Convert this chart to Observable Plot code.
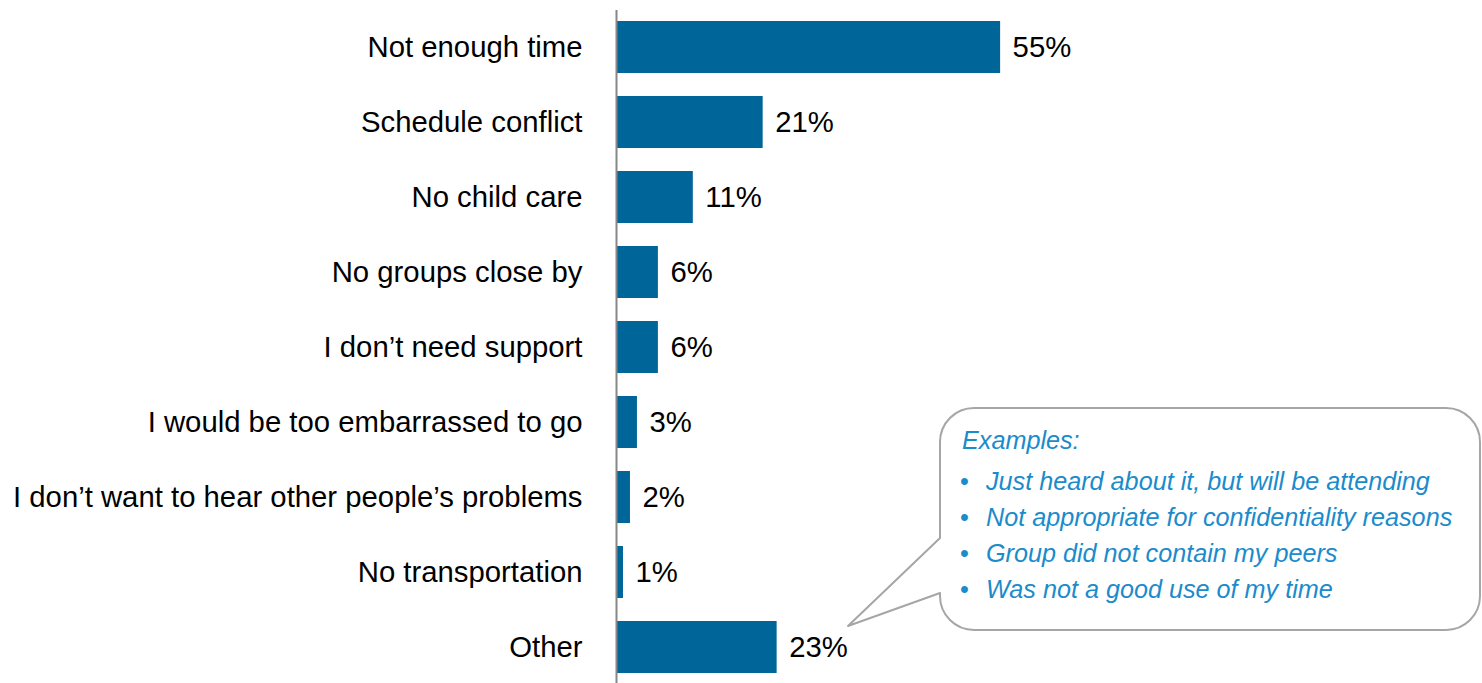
<!DOCTYPE html>
<html>
<head>
<meta charset="utf-8">
<script src="https://cdn.jsdelivr.net/npm/d3@7"></script>
<script src="https://cdn.jsdelivr.net/npm/@observablehq/plot@0.6"></script>
<style>
  html, body { margin: 0; padding: 0; background: #fff; }
  #wrap { position: relative; width: 1482px; height: 683px; overflow: hidden; }
  #wrap svg.overlay { position: absolute; left: 0; top: 0; pointer-events: none; }
</style>
</head>
<body>
<div id="wrap"></div>
<script>
const categories = [
  "Not enough time",
  "Schedule conflict",
  "No child care",
  "No groups close by",
  "I don\u2019t need support",
  "I would be too embarrassed to go",
  "I don\u2019t want to hear other people\u2019s problems",
  "No transportation",
  "Other"
];
const values = [55, 21, 11, 6, 6, 3, 2, 1, 23];
const calloutTitle = "Examples:";
const calloutItems = [
  "Just heard about it, but will be attending",
  "Not appropriate for confidentiality reasons",
  "Group did not contain my peers",
  "Was not a good use of my time"
];

const data = categories.map((c, i) => ({category: c, value: values[i]}));
const font = "'Liberation Sans', Arial, sans-serif";

const chart = Plot.plot({
  width: 1482,
  height: 683,
  marginLeft: 616,
  marginRight: 0,
  marginTop: 10,
  marginBottom: 0,
  style: {fontFamily: font, fontSize: "29.3px", color: "#000", background: "#fff"},
  x: {domain: [0, 124], axis: null},
  y: {domain: categories, paddingInner: 0.31, paddingOuter: 0.13, axis: null},
  marks: [
    Plot.barX(data, {x: "value", y: "category", fill: "#006699"}),
    Plot.ruleX([0], {stroke: "#888888", strokeWidth: 2}),
    Plot.text(data, {x: "value", y: "category", text: d => d.value + "%", textAnchor: "start", dx: 12, fontSize: 29.3, fill: "#000"}),
    Plot.axisY({tickSize: 0, tickPadding: 34, fontSize: 29.3, label: null, fill: "#000"})
  ]
});

const wrap = document.getElementById("wrap");
wrap.appendChild(chart);

// Callout bubble (annotation)
const ns = "http://www.w3.org/2000/svg";
const ov = document.createElementNS(ns, "svg");
ov.setAttribute("class", "overlay");
ov.setAttribute("width", 1482);
ov.setAttribute("height", 683);
const path = document.createElementNS(ns, "path");
path.setAttribute("d",
  "M 974 408 H 1446 A 34 34 0 0 1 1480 442 V 596 A 34 34 0 0 1 1446 630 H 974 A 34 34 0 0 1 940 596 V 593 L 848 626 L 940 538 V 442 A 34 34 0 0 1 974 408 Z");
path.setAttribute("fill", "#fff");
path.setAttribute("stroke", "#a6a6a6");
path.setAttribute("stroke-width", "2");
path.setAttribute("stroke-linejoin", "round");
ov.appendChild(path);

const blue = "#1a8bcb";
function addText(str, x, y, italic) {
  const t = document.createElementNS(ns, "text");
  t.setAttribute("x", x);
  t.setAttribute("y", y);
  t.setAttribute("fill", blue);
  t.setAttribute("font-family", font);
  t.setAttribute("font-size", "25.2");
  if (italic) t.setAttribute("font-style", "italic");
  t.textContent = str;
  ov.appendChild(t);
}
addText(calloutTitle, 962, 449, true);
const baselines = [490, 526, 562, 598];
calloutItems.forEach((s, i) => {
  addText("\u2022", 960, baselines[i], false);
  addText(s, 986, baselines[i], true);
});
wrap.appendChild(ov);
</script>
</body>
</html>
